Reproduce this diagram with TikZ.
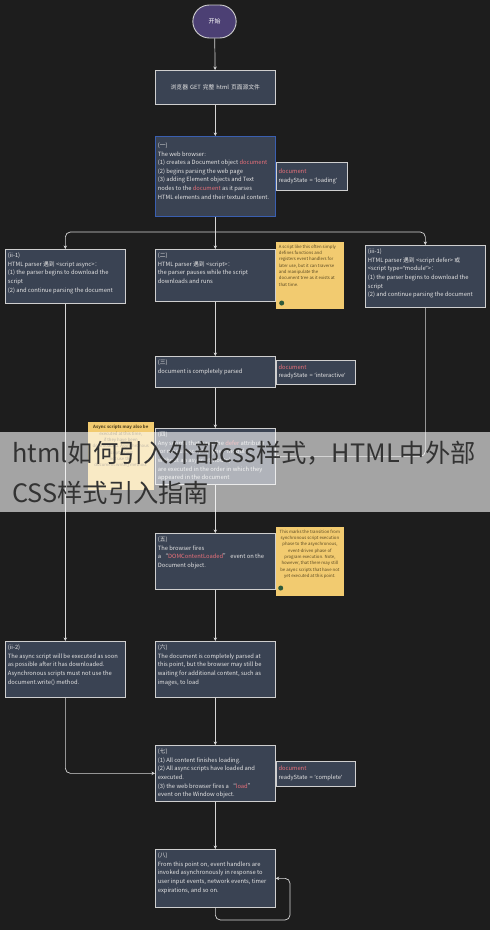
\documentclass[tikz,border=0pt]{standalone}
\usepackage{fontspec}
\setmainfont{Noto Sans CJK SC}
\newfontfamily\latinfont{Noto Sans}
\usetikzlibrary{positioning,arrows.meta,shapes.misc}

\definecolor{bg}{HTML}{1D1D1D}
\definecolor{slate}{HTML}{3A4353}
\definecolor{edge}{HTML}{CFCFCF}
\definecolor{blueedge}{HTML}{3A5FB0}
\definecolor{ink}{HTML}{E4E4E4}
\definecolor{hilite}{HTML}{E8707A}
\definecolor{wire}{HTML}{D6D6D6}
\definecolor{notefill}{HTML}{F2CB70}
\definecolor{noteink}{HTML}{5B4A22}
\definecolor{startfill}{HTML}{4C4074}
\definecolor{avatarfill}{HTML}{2F5A3A}
\definecolor{titleink}{HTML}{333333}

\newcommand{\boxfont}{\fontsize{5.8}{8.6}\selectfont}
\newcommand{\notefont}{\fontsize{4.3}{6.3}\selectfont}
\newcommand{\card}[3][115pt]{\parbox[t][#2][t]{#1}{\raggedright #3}}
\newcommand{\redword}[1]{\textcolor{hilite}{#1}}
\newcommand{\sq}[1]{{\latinfont ‘}#1{\latinfont ’}}
\newcommand{\dq}[1]{{\latinfont “}#1{\latinfont ”}}

\tikzset{
	stepbox/.style={draw=edge, fill=slate, text=ink, line width=0.7pt, inner xsep=2.5pt, inner ysep=3.5pt, anchor=north west, font=\boxfont},
	statebox/.style={draw=edge, fill=slate, text=ink, line width=0.7pt, inner xsep=2.5pt, inner ysep=2pt, align=left, font=\boxfont},
	notebox/.style={fill=notefill, text=noteink, inner sep=3pt, font=\notefont},
	avatar/.style={circle, fill=avatarfill, inner sep=0pt, minimum size=5pt},
	flow/.style={draw=wire, line width=0.7pt, rounded corners=5pt, -{Stealth[length=3.5pt,width=3.5pt]}},
	title/.style={text=titleink, inner sep=0pt, anchor=base west, font=\fontsize{25.3}{29}\selectfont},
}

\begin{document}
\begin{tikzpicture}[x=1pt, y=-1pt]
	\useasboundingbox (0,0) rectangle (490,930);
	\fill[bg] (0,0) rectangle (490,930);

	% main column
	\node[rounded rectangle, draw=edge, fill=startfill, text=white, line width=0.9pt, minimum width=50pt, minimum height=33pt, font=\fontsize{6}{7}\selectfont] (start) at (214.5,21.5) {开始};
	\node[stepbox, text width=115pt, align=center, minimum height=34pt] (fetch) at (155,70) {浏览器 GET 完整 html 页面源文件};
	\node[stepbox, draw=blueedge] (one) at (155,136) {\card{73pt}{\vspace*{3pt}(一)\\
		The web browser:\\
		(1) creates a Document object \redword{document}\\
		(2) begins parsing the web page\\
		(3) adding Element objects and Text\\
		nodes to the \redword{document} as it parses\\
		HTML elements and their textual content.}};
	\node[stepbox] (two) at (155,249) {\card{45pt}{(二)\\
		HTML parser 遇到 <script>：\\
		the parser pauses while the script\\
		downloads and runs}};
	\node[stepbox] (three) at (155,356) {\card{24pt}{(三)\\
		document is completely parsed}};
	\node[stepbox] (four) at (155,428) {\card{49pt}{(四)\\
		Any scripts that have the \redword{defer} attribute\\
		(or module scripts, type=\dq{module},\\
		without an async attribute)\\
		are executed in the order in which they\\
		appeared in the document}};
	\node[stepbox] (five) at (155,533) {\card{49pt}{(五)\\
		The browser fires\\
		a “\redword{DOMContentLoaded}” event on the\\
		Document object.}};
	\node[stepbox] (six) at (155,641) {\card{49pt}{(六)\\
		The document is completely parsed at\\
		this point, but the browser may still be\\
		waiting for additional content, such as\\
		images, to load}};
	\node[stepbox] (seven) at (155,745) {\card{49pt}{(七)\\
		(1) All content finishes loading.\\
		(2) All async scripts have loaded and\\
		executed.\\
		(3) the web browser fires a “\redword{load}”\\
		event on the Window object.}};
	\node[stepbox] (eight) at (155,849) {\card{51pt}{(八)\\
		From this point on, event handlers are\\
		invoked asynchronously in response to\\
		user input events, network events, timer\\
		expirations, and so on.}};

	% side branches
	\node[stepbox] (async1) at (5,249) {\card{47pt}{(ii-1)\\
		HTML parser 遇到 <script async>：\\
		(1) the parser begins to download the\\
		script\\
		(2) and continue parsing the document}};
	\node[stepbox] (async2) at (5,641) {\card{49pt}{(ii-2)\\
		The async script will be executed as soon\\
		as possible after it has downloaded.\\
		Asynchronous scripts must not use the\\
		document.write() method.}};
	\node[stepbox] (defer1) at (365,245) {\card{55pt}{(iii-1)\\
		HTML parser 遇到 <script defer> 或\\
		<script type=\dq{module}>：\\
		(1) the parser begins to download the\\
		script\\
		(2) and continue parsing the document}};

	% readyState boxes
	\node[statebox, text width=66pt, minimum height=28pt, right=0pt of one] (state1) {\redword{document}\\readyState = \sq{loading}};
	\node[statebox, text width=74pt, minimum height=24pt, right=0pt of three] (state2) {\redword{document}\\readyState = \sq{interactive}};
	\node[statebox, text width=74pt, minimum height=25pt, right=0pt of seven] (state3) {\redword{document}\\readyState = \sq{complete}};

	% notes
	\node[notebox, right=0pt of two] (note1) {\card[62pt]{61pt}{A script like this often simply\\
		defines functions and\\
		registers event handlers for\\
		later use, but it can traverse\\
		and manipulate the\\
		document tree as it exists at\\
		that time.}};
	\node[avatar] (av1) at ([shift={(6,-6)}]note1.south west) {};
	\node[notebox, right=0pt of five] (note2) {\card[62pt]{63pt}{\centering This marks the transition from\\
		synchronous script execution\\
		phase to the asynchronous,\\
		event-driven phase of\\
		program execution. Note,\\
		however, that there may still\\
		be async scripts that have not\\
		yet executed at this point.}};
	\node[avatar] (av2) at ([shift={(5,-8)}]note2.south west) {};
	\node[notebox, left=1pt of four] (note3) {\card[60pt]{62pt}{\centering \textbf{Async scripts may also be}\\
		executed at this time,\\
		if they have been\\
		downloaded. Asynchronous\\
		scripts must\\
		not use the\\
		document.write() method.}};

	% connectors
	\coordinate (fork) at (215,232);
	\coordinate (loop) at (290,920);
	\draw[flow] (start) -- (fetch);
	\draw[flow] (fetch) -- (one);
	\draw[flow] (one) -- (two);
	\draw[flow] (fork) -| (async1);
	\draw[flow] (fork) -| (defer1);
	\draw[flow] (two) -- (three);
	\draw[flow] (three) -- (four);
	\draw[flow] (defer1) |- (four);
	\draw[flow] (four) -- (five);
	\draw[flow] (five) -- (six);
	\draw[flow] (async1) -- (async2);
	\draw[flow] (six) -- (seven);
	\draw[flow] (async2) |- (seven);
	\draw[flow] (seven) -- (eight);
	\draw[flow] (eight.south) |- (loop) |- (eight.east);

	% banner
	\fill[white, fill opacity=0.6] (0,432) rectangle (490,512);
	\node[title] (title1) at (12,462) {html如何引入外部css样式，HTML中外部};
	\node[title] (title2) at (12,502) {CSS样式引入指南};
\end{tikzpicture}
\end{document}
